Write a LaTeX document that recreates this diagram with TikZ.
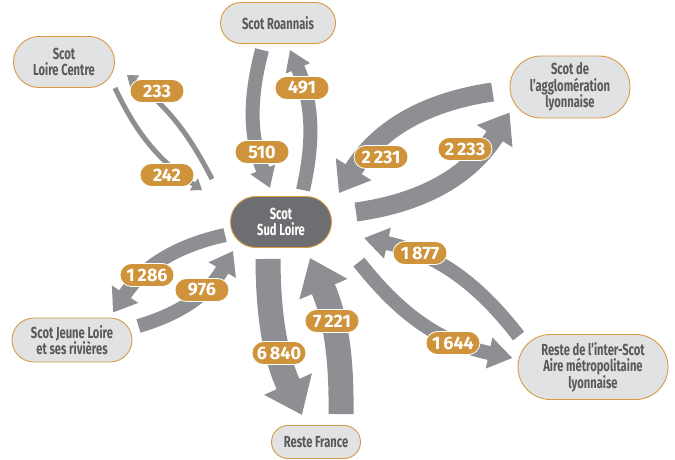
\documentclass[tikz,border=0pt]{standalone}
\usepackage{fontspec}
\setmainfont{Fira Sans}[FakeStretch=0.7]
\newfontfamily\numfont{Fira Sans}
\usetikzlibrary{arrows.meta}
\definecolor{scotfill}{HTML}{E1E2E3}
\definecolor{scotline}{HTML}{D89A45}
\definecolor{scottext}{HTML}{58595B}
\definecolor{scotdark}{HTML}{6D6E71}
\definecolor{flowgray}{HTML}{8E8F92}
\definecolor{flowlab}{HTML}{CF943B}
\tikzset{
  scot/.style 2 args={draw=scotline, line width=0.9pt, fill=scotfill, text=scottext,
    minimum width=#1, minimum height=#2, rounded corners=#2/2, inner sep=0pt,
    align=center, font=\fontsize{16}{16.7}\selectfont\bfseries},
  scotmain/.style={fill=scotdark, text=white},
  flow/.style n args={3}{draw=flowgray, line width=#1, -{Triangle[length=#2,width=#3]}},
  lab/.style={fill=flowlab, draw=white, line width=0.8pt, text=white,
    minimum width=54, minimum height=23, rounded corners=11.5, inner xsep=2pt, inner ysep=0pt,
    font=\numfont\fontsize{18}{18}\selectfont\bfseries}
}
\begin{document}
\begin{tikzpicture}[x=1pt,y=-1pt]
  \useasboundingbox (0,0) rectangle (675,460);
  % territories
  \node[scot={101}{51},scotmain] (sud) at (281,222) {Scot\\Sud Loire};
  \node[scot={101}{51}] (lc)   at (64,62)   {Scot\\Loire Centre};
  \node[scot={115}{41}] (roan) at (278,23)  {Scot Roannais};
  \node[scot={120}{62}] (agg)  at (570,87)  {Scot de\\l’agglomération\\lyonnaise};
  \node[scot={120}{44}] (jl)   at (72,340)  {Scot Jeune Loire\\et ses rivières};
  \node[scot={89}{33}]  (rf)   at (316,442) {Reste France};
  \node[scot={150}{65}] (ri)   at (593,367) {Reste de l’inter-Scot\\Aire métropolitaine\\lyonnaise};
  % flows
  \draw[flow={5pt}{10pt}{14pt}] (lc.south east) to[bend right=15] ([shift={(-28,-6)}]sud.north west);
  \draw[flow={5pt}{10pt}{14pt}] ([shift={(-18,-17)}]sud.north west) to[bend right=12] ([shift={(12,-13)}]lc.south east);
  \draw[flow={14pt}{20pt}{25pt}] ([shift={(-16,6)}]roan.south) to[bend right=18] ([shift={(-11,-8)}]sud.north);
  \draw[flow={14pt}{20pt}{25pt}] ([shift={(22,-6)}]sud.north) to[bend right=18] ([shift={(12,6)}]roan.south);
  \draw[flow={19pt}{28pt}{40pt}] ([shift={(-17,5)}]agg.west) to[bend right=25] ([shift={(7,-3)}]sud.north east);
  \draw[flow={19pt}{28pt}{40pt}] ([shift={(24,-10)}]sud.east) to[bend right=25] ([shift={(0,-6)}]agg.south west);
  \draw[flow={14pt}{22pt}{30pt}] ([shift={(-5,13)}]sud.west) to[bend right=22] ([shift={(41,-5)}]jl.north);
  \draw[flow={14pt}{22pt}{30pt}] ([shift={(6,-14)}]jl.east) to[bend right=22] ([shift={(3,3)}]sud.south west);
  \draw[flow={25pt}{34pt}{50pt}] ([shift={(-13,11)}]sud.south) to[bend right=12] ([shift={(-14,-10)}]rf.north);
  \draw[flow={25pt}{34pt}{50pt}] ([shift={(25,-11)}]rf.north) to[bend right=12] ([shift={(29,10)}]sud.south);
  \draw[flow={14pt}{24pt}{30pt}] ([shift={(27,14)}]sud.south east) to[bend right=20] ([shift={(-5,-9)}]ri.west);
  \draw[flow={14pt}{24pt}{30pt}] ([shift={(1,2)}]ri.north west) to[bend right=20] ([shift={(32,16)}]sud.east);
  % numbers
  \node[lab] (n233)  at (157,91)  {233};
  \node[lab] (n242)  at (167,175) {242};
  \node[lab] (n510)  at (262,152) {510};
  \node[lab] (n491)  at (302,88)  {491};
  \node[lab] (n2231) at (381,157) {2\,231};
  \node[lab] (n2233) at (465,149) {2\,233};
  \node[lab] (n1286) at (147,275) {1\,286};
  \node[lab] (n976)  at (202,290) {976};
  \node[lab] (n1877) at (420,253) {1\,877};
  \node[lab] (n1644) at (453,343) {1\,644};
  \node[lab] (n6840) at (279,353) {6\,840};
  \node[lab] (n7221) at (332,321) {7\,221};
\end{tikzpicture}
\end{document}
